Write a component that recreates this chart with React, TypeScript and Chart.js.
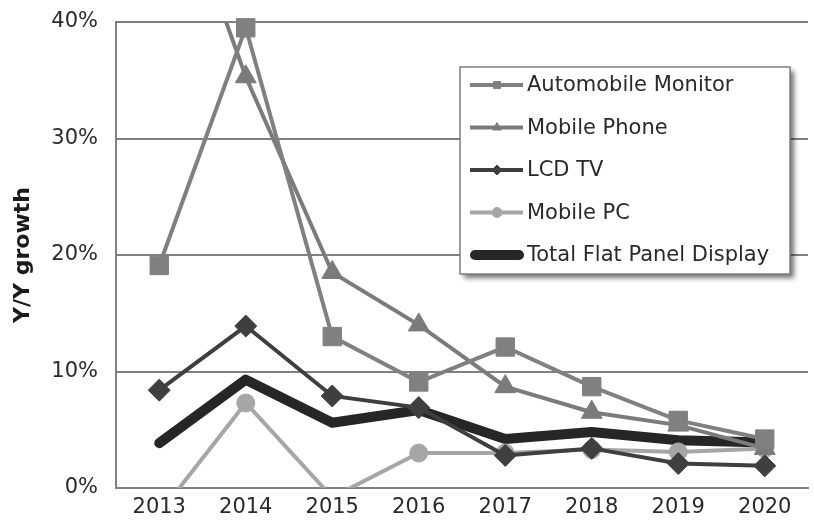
import React, { useEffect, useRef } from "react";
import { Chart, registerables } from "chart.js";
import { drawPoint } from "chart.js/helpers";

Chart.register(...registerables);

const years = ["2013", "2014", "2015", "2016", "2017", "2018", "2019", "2020"];
const automobileMonitor = [19.1, 39.5, 13.0, 9.1, 12.1, 8.7, 5.8, 4.2];
const mobilePhone = [56, 35.3, 18.5, 14.0, 8.7, 6.5, 5.4, 3.4];
const lcdTV = [8.4, 13.9, 7.9, 6.9, 2.8, 3.4, 2.1, 1.9];
const mobilePC = [-2.2, 7.3, -0.8, 3.0, 3.0, 3.3, 3.1, 3.4];
const totalFPD = [3.85, 9.3, 5.6, 6.7, 4.2, 4.8, 4.1, 3.9];
const seriesNames = ["Automobile Monitor", "Mobile Phone", "LCD TV", "Mobile PC", "Total Flat Panel Display"];

const FONT = "'DejaVu Sans', Verdana, sans-serif";

const boxLegend = {
  id: "boxLegend",
  afterDraw(chart: any) {
    const ctx = chart.ctx;
    const x0 = 460, y0 = 67, w = 330, h = 207;
    ctx.save();
    ctx.shadowColor = "rgba(0,0,0,0.55)";
    ctx.shadowBlur = 5;
    ctx.shadowOffsetX = 4;
    ctx.shadowOffsetY = 4;
    ctx.fillStyle = "#ffffff";
    ctx.fillRect(x0, y0, w, h);
    ctx.restore();
    ctx.save();
    ctx.strokeStyle = "#7f7f7f";
    ctx.lineWidth = 1.5;
    ctx.strokeRect(x0, y0, w, h);
    chart.data.datasets.forEach((ds: any, i: number) => {
      const y = 85 + i * 42.5;
      ctx.beginPath();
      ctx.strokeStyle = ds.borderColor;
      ctx.lineWidth = ds.borderWidth;
      ctx.lineCap = ds.borderWidth > 6 ? "round" : "butt";
      ctx.moveTo(ds.borderWidth > 6 ? 475 : 470, y);
      ctx.lineTo(ds.borderWidth > 6 ? 519 : 523, y);
      ctx.stroke();
      if (ds.pointRadius > 0) {
        ctx.fillStyle = ds.pointBackgroundColor;
        ctx.strokeStyle = ds.pointBorderColor;
        ctx.lineWidth = 1;
        drawPoint(ctx, { pointStyle: ds.pointStyle, radius: 5, rotation: 0, borderWidth: 1 }, 497, y);
      }
      ctx.fillStyle = "#2a2a2a";
      ctx.font = `21px ${FONT}`;
      ctx.textBaseline = "middle";
      ctx.textAlign = "left";
      ctx.fillText(ds.label, 527, y + 1);
    });
    ctx.restore();
  },
};

export default function App() {
  const ref = useRef<HTMLCanvasElement>(null);
  useEffect(() => {
    const mk = (label: string, data: number[], color: string, width: number, style: any, radius: number, clip: any) => ({
      label,
      data,
      borderColor: color,
      backgroundColor: color,
      pointBackgroundColor: color,
      pointBorderColor: color,
      borderWidth: width,
      pointStyle: style,
      pointRadius: radius,
      pointHoverRadius: radius,
      pointBorderWidth: 1,
      tension: 0,
      clip,
    });
    const chart = new Chart(ref.current!, {
      type: "line",
      data: {
        labels: years,
        datasets: [
          mk(seriesNames[0], automobileMonitor, "#808080", 4, "rect", 13, { left: 0, top: 12, right: 0, bottom: 0 }),
          mk(seriesNames[1], mobilePhone, "#7b7b7b", 4, "triangle", 12, { left: 0, top: 0, right: 0, bottom: 0 }),
          mk(seriesNames[2], lcdTV, "#3f3f3f", 4, "rectRot", 11, { left: 0, top: 0, right: 0, bottom: 0 }),
          mk(seriesNames[3], mobilePC, "#a6a6a6", 4, "circle", 9, { left: 0, top: 0, right: 0, bottom: 0 }),
          {
            ...mk(seriesNames[4], totalFPD, "#262626", 10, "circle", 0, { left: 0, top: 0, right: 0, bottom: 0 }),
            borderCapStyle: "round",
            borderJoinStyle: "round",
          },
        ],
      },
      options: {
        animation: false,
        responsive: false,
        maintainAspectRatio: false,
        layout: { padding: { top: 22, left: 0, right: 0, bottom: 0 } },
        plugins: { legend: { display: false }, tooltip: { enabled: false } },
        scales: {
          x: {
            offset: true,
            grid: { display: false, drawTicks: false, offset: true },
            border: { color: "#808080", width: 2 },
            ticks: { color: "#2a2a2a", font: { family: FONT, size: 21 }, padding: 7, maxRotation: 0 },
            afterFit: (s: any) => { s.height = 39; s.paddingLeft = 0; s.paddingRight = 0; },
          },
          y: {
            min: 0,
            max: 40,
            ticks: {
              stepSize: 10,
              color: "#2a2a2a",
              font: { family: FONT, size: 21 },
              padding: 18,
              callback: (v: any) => v + "%",
            },
            grid: { color: "#808080", lineWidth: 2, drawTicks: false },
            border: { color: "#808080", width: 2 },
            title: {
              display: true,
              text: "Y/Y growth",
              color: "#1a1a1a",
              font: { family: FONT, size: 22, weight: "bold" },
              padding: { top: 10, bottom: 0 },
            },
            afterFit: (s: any) => { s.width = 116; s.paddingTop = 0; s.paddingBottom = 0; },
          },
        },
      },
      plugins: [boxLegend],
    });
    return () => chart.destroy();
  }, []);
  return (
    <div style={{ position: "fixed", left: 0, top: 0, width: 814, height: 527, overflow: "hidden", background: "#fff" }}>
      <canvas ref={ref} width={822} height={527} style={{ width: 822, height: 527, display: "block" }} />
    </div>
  );
}
